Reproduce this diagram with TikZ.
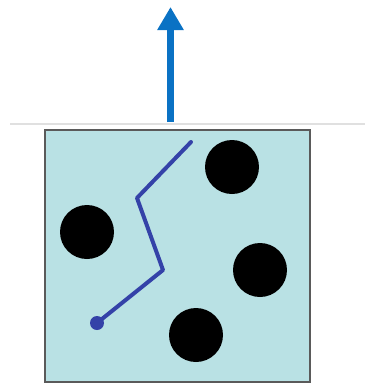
\documentclass[tikz,border=0pt]{standalone}
\usetikzlibrary{arrows.meta}
\definecolor{boxfill}{HTML}{B9E1E4}
\definecolor{boxedge}{HTML}{5A5A5A}
\definecolor{pathblue}{HTML}{3442A8}
\definecolor{arrowblue}{HTML}{0A72C4}
\begin{document}
\begin{tikzpicture}[x=1pt, y=-1pt,
    particle/.style={circle, fill=black, minimum size=54pt, inner sep=0pt},
    walk/.style={pathblue, line width=4pt, line join=round, line cap=round}]
  \useasboundingbox (0,0) rectangle (365,384);
  \draw[black!12, line width=2pt] (10,123.5) -- (365,123.5);
  \draw[boxedge, line width=2pt, fill=boxfill] (45,130) rectangle (310,382);
  % molecules
  \node[particle] (p1) at (232,167) {};
  \node[particle] (p2) at (87,232) {};
  \node[particle] (p3) at (260,270) {};
  \node[particle] (p4) at (196,335) {};
  % random walk
  \coordinate (w0) at (97,323);
  \coordinate (w1) at (163,270);
  \coordinate (w2) at (137,198);
  \coordinate (w3) at (191,142);
  \draw[walk] (w0) -- (w1) -- (w2) -- (w3);
  \fill[pathblue] (w0) circle (7pt);
  % net flow
  \coordinate (a0) at (170.5,122);
  \coordinate (a1) at (170.5,7);
  \draw[arrowblue, line width=7pt, -{Triangle[length=23pt, width=25pt]}] (a0) -- (a1);
\end{tikzpicture}
\end{document}
